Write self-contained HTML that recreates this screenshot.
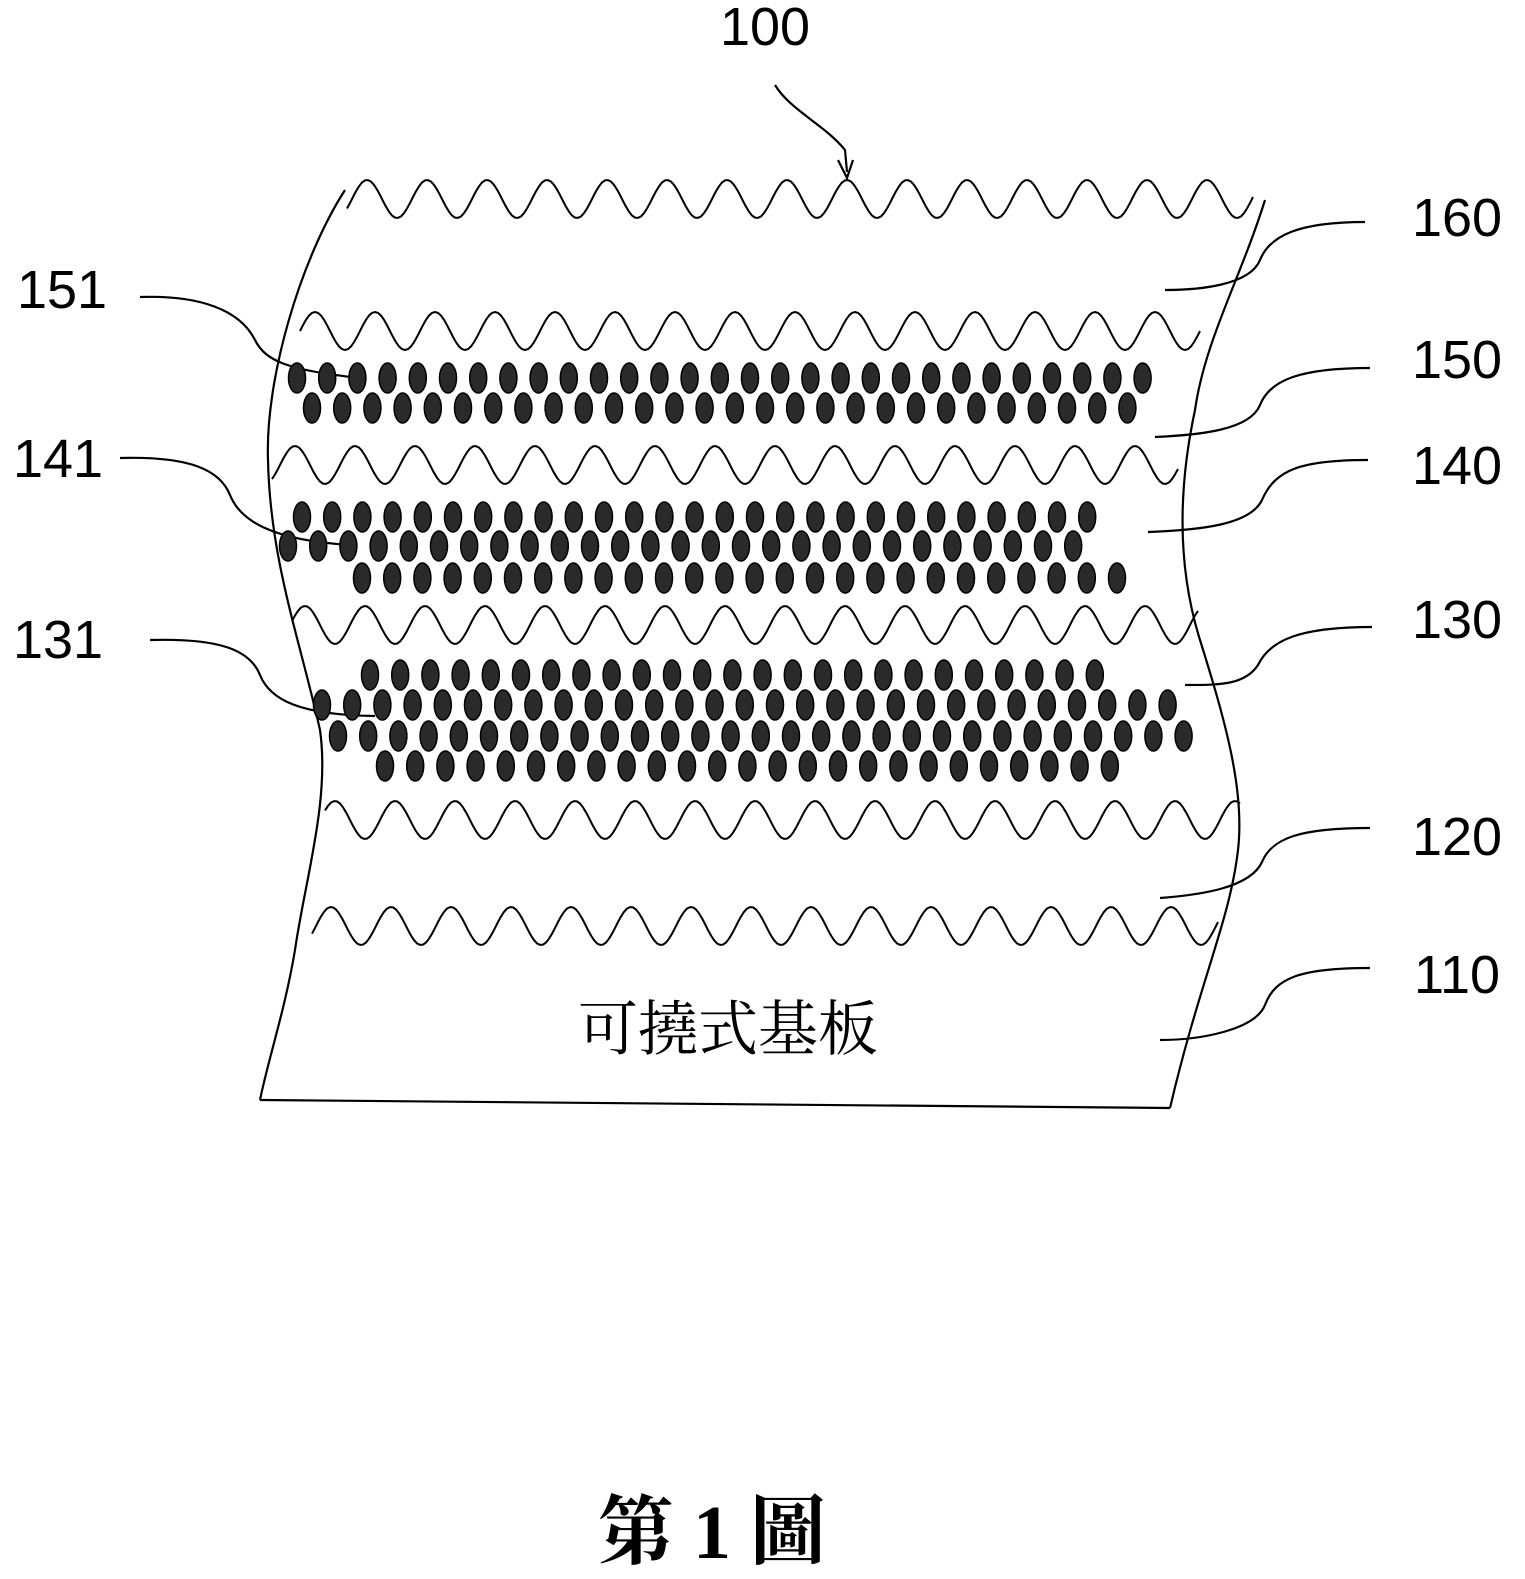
<!DOCTYPE html>
<html><head><meta charset="utf-8"><style>
html,body{margin:0;padding:0;background:#fff;}
svg{display:block}
text{font-family:"Liberation Sans",sans-serif;fill:#000}
</style></head><body>
<svg id="s" width="1525" height="1579" viewBox="0 0 1525 1579" xmlns="http://www.w3.org/2000/svg">
<g fill="none" stroke="#000" stroke-width="2.2">
<path d="M345,190 C300,260 265,380 268,460 C270,560 300,640 320,730 C330,800 305,880 295,950 C285,1010 268,1060 260,1100"/>
<path d="M1265,200 C1240,280 1205,340 1195,410 C1180,480 1175,560 1200,640 C1225,720 1245,790 1238,850 C1230,920 1200,980 1170,1108"/>
<path d="M260,1100 L1170,1108"/>
<path d="M140,297 C200,295 240,310 255,340 C265,360 285,370 360,378
M120,458 C190,456 220,470 230,495 C240,520 270,540 350,545
M150,640 C220,638 250,650 260,675 C270,700 300,715 375,716
M1365,222 C1300,222 1270,235 1260,260 C1250,285 1200,290 1165,290
M1370,368 C1300,368 1270,380 1260,405 C1250,430 1200,435 1155,437
M1368,460 C1300,460 1275,470 1262,500 C1250,525 1200,530 1148,532
M1372,627 C1300,627 1270,640 1258,665 C1245,685 1220,685 1185,685
M1370,828 C1300,828 1272,838 1262,862 C1250,888 1200,895 1160,898
M1370,968 C1300,968 1275,978 1265,1005 C1255,1030 1200,1040 1160,1040
M775,85 C790,110 825,125 845,150 L847,172"/>
<path d="M838,160 L847,178 L853,160" />
</g>
<g id="waves" fill="none" stroke="#000" stroke-width="2"></g>
<g id="dots" fill="#2a2a2a" stroke="#000" stroke-width="1.5"></g>
<text x="765" y="45" font-size="54" text-anchor="middle">100</text>
<text x="1457" y="236" font-size="54" text-anchor="middle">160</text>
<text x="1457" y="378" font-size="54" text-anchor="middle">150</text>
<text x="1457" y="484" font-size="54" text-anchor="middle">140</text>
<text x="1457" y="638" font-size="54" text-anchor="middle">130</text>
<text x="1457" y="855" font-size="54" text-anchor="middle">120</text>
<text x="1457" y="993" font-size="54" text-anchor="middle">110</text>
<text x="62" y="308" font-size="54" text-anchor="middle">151</text>
<text x="58" y="477" font-size="54" text-anchor="middle">141</text>
<text x="58" y="658" font-size="54" text-anchor="middle">131</text>
<text x="728" y="1050" font-size="60" text-anchor="middle" style="font-family:'Noto Serif CJK SC','Noto Sans CJK TC',serif">可撓式基板</text>
<text x="712" y="1558" font-size="76" font-weight="bold" text-anchor="middle" style="font-family:'Liberation Serif','Noto Serif CJK SC',serif">第 1 圖</text>
</svg>
<script>
var NS="http://www.w3.org/2000/svg";
var w=document.getElementById("waves"),d=document.getElementById("dots");
function wave(y,x0,x1,ph){var s="";for(var x=x0;x<=x1;x+=3){var yy=y-19*Math.sin((x-ph)/60*2*Math.PI);s+=(s?"L":"M")+x+","+yy.toFixed(1);}var p=document.createElementNS(NS,"path");p.setAttribute("d",s);w.appendChild(p);}
wave(199,347,1255,352);wave(331,300,1200,300);wave(465,272,1180,280);wave(625,292,1200,290);wave(820,325,1240,320);wave(926,312,1220,316);
function row(y,x0,x1){for(var x=x0;x<=x1;x+=30.2){var e=document.createElementNS(NS,"ellipse");e.setAttribute("cx",x);e.setAttribute("cy",y);e.setAttribute("rx",8.5);e.setAttribute("ry",15);d.appendChild(e);}}
row(378,297,1170);row(408,312,1150);
row(517,302,1110);row(546,288,1095);row(578,362,1140);
row(675,370,1120);row(705,322,1195);row(736,338,1210);row(766,385,1130);
</script>
</body></html>
